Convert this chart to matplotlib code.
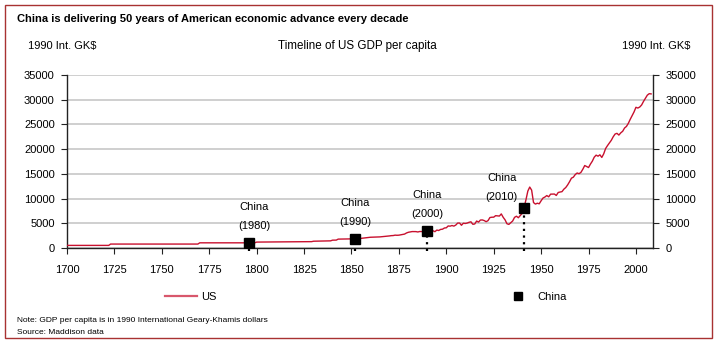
import numpy as np
import matplotlib
matplotlib.use('Agg')
import matplotlib.pyplot as plt
from matplotlib.lines import Line2D
from matplotlib.patches import Rectangle

plt.rcParams['font.family'] = ['Liberation Sans', 'DejaVu Sans']

us_years = [1700, 1722, 1723, 1769, 1770, 1799, 1800, 1819, 1820, 1829, 1830, 1839, 1840, 1842,
            1843, 1849, 1850, 1855, 1860, 1865, 1869,
            1870, 1871, 1872, 1873, 1874, 1875, 1876, 1877, 1878, 1879,
            1880, 1881, 1882, 1883, 1884, 1885, 1886, 1887, 1888, 1889,
            1890, 1891, 1892, 1893, 1894, 1895, 1896, 1897, 1898, 1899,
            1900, 1901, 1902, 1903, 1904, 1905, 1906, 1907, 1908, 1909,
            1910, 1911, 1912, 1913, 1914, 1915, 1916, 1917, 1918, 1919,
            1920, 1921, 1922, 1923, 1924, 1925, 1926, 1927, 1928, 1929,
            1930, 1931, 1932, 1933, 1934, 1935, 1936, 1937, 1938, 1939,
            1940, 1941, 1942, 1943, 1944, 1945, 1946, 1947, 1948, 1949,
            1950, 1951, 1952, 1953, 1954, 1955, 1956, 1957, 1958, 1959,
            1960, 1961, 1962, 1963, 1964, 1965, 1966, 1967, 1968, 1969,
            1970, 1971, 1972, 1973, 1974, 1975, 1976, 1977, 1978, 1979,
            1980, 1981, 1982, 1983, 1984, 1985, 1986, 1987, 1988, 1989,
            1990, 1991, 1992, 1993, 1994, 1995, 1996, 1997, 1998, 1999,
            2000, 2001, 2002, 2003, 2004, 2005, 2006, 2007, 2008]
us_gdp = [530, 530, 800, 800, 1050, 1050, 1200, 1250, 1257, 1290, 1376, 1450, 1588, 1600,
          1800, 1830, 1849, 1950, 2178, 2250, 2400,
          2445, 2503, 2519, 2604, 2577, 2599, 2677, 2738, 2817, 3041,
          3184, 3258, 3326, 3322, 3319, 3244, 3342, 3323, 3313, 3363,
          3392, 3431, 3673, 3484, 3306, 3629, 3542, 3763, 3807, 4049,
          4091, 4464, 4421, 4551, 4433, 4642, 5047, 5056, 4603, 5017,
          4964, 5046, 5201, 5301, 4799, 4864, 5459, 5248, 5659, 5680,
          5552, 5323, 5540, 6164, 6233, 6238, 6543, 6494, 6465, 6899,
          6213, 5691, 4908, 4777, 5114, 5467, 6204, 6430, 6126, 6561,
          7010, 8206, 9741, 11518, 12333, 11709, 9197, 8886, 9065, 8944,
          9561, 10116, 10316, 10613, 10359, 10897, 10914, 10920, 10631, 11230,
          11328, 11402, 11905, 12242, 12773, 13419, 14134, 14330, 14863, 15179,
          15030, 15304, 15944, 16689, 16491, 16284, 16975, 17567, 18373, 18789,
          18577, 18856, 18325, 19047, 20123, 20717, 21236, 21788, 22499, 23059,
          23201, 22849, 23298, 23616, 24279, 24603, 25230, 26046, 26780, 27534,
          28467, 28318, 28523, 28941, 29663, 30301, 30922, 31222, 31178]

# China GDP per capita placed at the year the US had the same level
china_labels = ['1980', '1990', '2000', '2010']
china_years = [1796, 1852, 1890, 1941]
china_gdp = [1061, 1871, 3421, 8000]

x_ticks = list(range(1700, 2001, 25))
y_ticks = list(range(0, 35001, 5000))

# label offsets in points (layout only)
label_off = {'1980': (3.5, 8.5), '1990': (0, 8.5), '2000': (0, 8.5), '2010': (-16, 4.3)}

red = '#c8102e'
fs = 8

fig = plt.figure(figsize=(7.21, 3.51), dpi=100)
ax = fig.add_axes([0.0929, 0.2934, 0.8128, 0.4929])

ax.set_xlim(1700, 2009)
ax.set_ylim(0, 35000)
ax.set_yticks(y_ticks)
ax.set_xticks(x_ticks)
ax.grid(axis='y', color='#cfcfcf', lw=1.4)
ax.set_axisbelow(True)

ax.plot(us_years, us_gdp, color=red, lw=1.0, zorder=3)

for lab, yr, val in zip(china_labels, china_years, china_gdp):
    ax.plot([yr, yr], [-600, val], color='black', ls=(0, (1, 2)), lw=1.6, zorder=4,
            clip_on=False)
    ax.plot(yr, val, 's', color='black', ms=6.5, zorder=5)
    ax.annotate('China\n(%s)' % lab, (yr, val), xytext=label_off[lab], textcoords='offset points',
                ha='center', va='bottom', fontsize=fs, linespacing=2.15)

ax.spines['top'].set_visible(False)
for s in ['left', 'right', 'bottom']:
    ax.spines[s].set_color('#222222')
    ax.spines[s].set_linewidth(1.0)

ax.tick_params(axis='both', labelsize=fs, length=4.3, color='#222222', pad=4.5)
ax.tick_params(axis='x', pad=8)
ax.tick_params(axis='y', right=True, labelright=True)

# header texts
fig.text(0.024, 0.946, 'China is delivering 50 years of American economic advance every decade',
         fontsize=fs, fontweight='bold', va='center')
fig.text(0.039, 0.869, '1990 Int. GK$', fontsize=fs, va='center')
fig.text(0.957, 0.869, '1990 Int. GK$', fontsize=fs, va='center', ha='right')
fig.text(0.495, 0.869, 'Timeline of US GDP per capita', fontsize=8.4, va='center', ha='center')

# legend
handles = [Line2D([], [], color=red, lw=1.6, alpha=0.7),
           Line2D([], [], color='black', marker='s', ls='none', ms=6)]
fig.legend(handles, ['US', 'China'], loc='center left', bbox_to_anchor=(0.229, 0.153),
           ncol=2, frameon=False, fontsize=fs, handlelength=2.9, handletextpad=0.3,
           columnspacing=25.7, borderpad=0, borderaxespad=0)

fig.text(0.024, 0.088, 'Note: GDP per capita is in 1990 International Geary-Khamis dollars',
         fontsize=6, va='center')
fig.text(0.024, 0.052, 'Source: Maddison data', fontsize=6, va='center')

# red frame round the whole chart
fig.patches.append(Rectangle((0.007, 0.037), 0.981, 0.949, transform=fig.transFigure,
                             fill=False, edgecolor='#a83232', lw=1.0))

fig.savefig('out.png', dpi=100)
